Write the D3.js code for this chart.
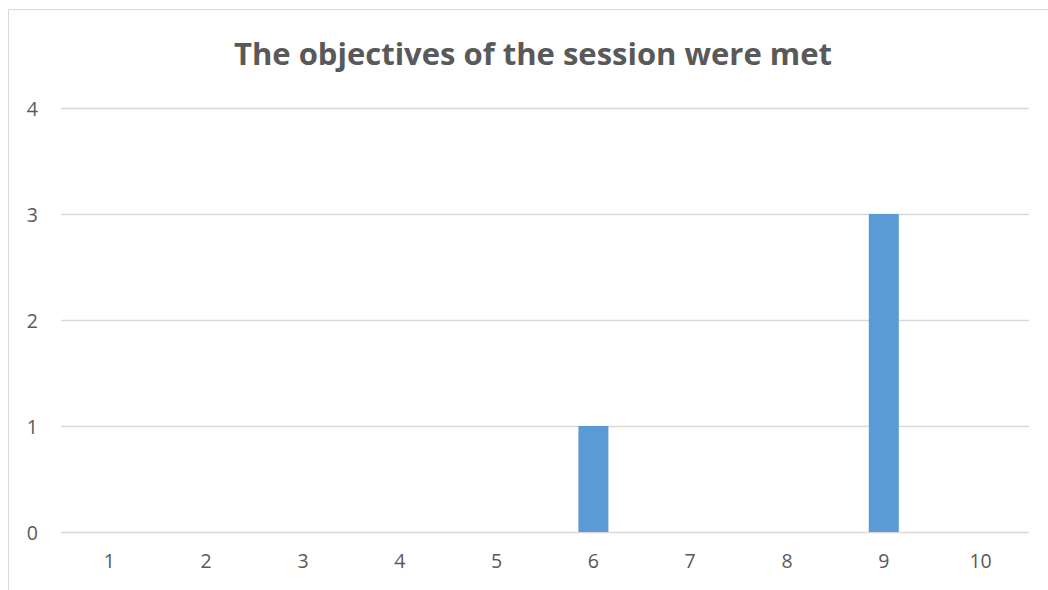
<!DOCTYPE html>
<html>
<head>
<meta charset="utf-8">
<script src="https://cdn.jsdelivr.net/npm/d3@7"></script>
<style>
html,body{margin:0;padding:0;background:#fff;}
svg{display:block;}
</style>
</head>
<body>
<svg id="chart" width="1048" height="590"></svg>
<script>
const title = "The objectives of the session were met";
const categories = ["1","2","3","4","5","6","7","8","9","10"];
const values = [0,0,0,0,0,1,0,0,3,0];
const yTicks = [0,1,2,3,4];

const svg = d3.select("#chart");
const W = 1048, H = 590;
const plot = {left: 61, right: 1029, top: 108, bottom: 532};
const FONT = "'Open Sans', sans-serif";

// chart border (extends beyond the visible area on right and bottom)
svg.append("rect")
  .attr("x", 8.5).attr("y", 9.5)
  .attr("width", W + 20).attr("height", H + 20)
  .attr("fill", "#fff")
  .attr("stroke", "#D9D9D9").attr("stroke-width", 1);

const x = d3.scaleBand()
  .domain(categories)
  .range([plot.left, plot.right])
  .paddingInner(0.69)
  .paddingOuter(0.345);

const y = d3.scaleLinear()
  .domain([0, 4])
  .range([plot.bottom, plot.top]);

// gridlines
svg.append("g")
  .selectAll("line")
  .data(yTicks)
  .join("line")
  .attr("x1", plot.left).attr("x2", plot.right)
  .attr("y1", d => Math.round(y(d)) + 0.5)
  .attr("y2", d => Math.round(y(d)) + 0.5)
  .attr("stroke", "#D9D9D9").attr("stroke-width", 1.3);

// bars
svg.append("g")
  .selectAll("rect")
  .data(values.map((v, i) => ({c: categories[i], v})))
  .join("rect")
  .attr("x", d => x(d.c))
  .attr("width", x.bandwidth())
  .attr("y", d => y(d.v))
  .attr("height", d => y(0) - y(d.v))
  .attr("fill", "#5B9BD5");

// y axis labels
const yAxis = d3.axisLeft(y).tickValues(yTicks).tickSize(0).tickPadding(0).tickFormat(d3.format("d"));
const gy = svg.append("g").attr("transform", "translate(38,0)").call(yAxis);
gy.select(".domain").remove();
gy.selectAll("text")
  .attr("fill", "#595959")
  .attr("dy", "0.36em")
  .style("font-family", FONT)
  .style("font-size", "19.5px");

// x axis labels
const xAxis = d3.axisBottom(x).tickSize(0).tickPadding(0);
const gx = svg.append("g").attr("transform", `translate(0,${plot.bottom + 22})`).call(xAxis);
gx.select(".domain").remove();
gx.selectAll("text")
  .attr("fill", "#595959")
  .style("font-family", FONT)
  .style("font-size", "19.5px");

// title
svg.append("text")
  .attr("x", 533).attr("y", 65)
  .attr("text-anchor", "middle")
  .attr("fill", "#595959")
  .attr("textLength", 598)
  .attr("lengthAdjust", "spacingAndGlyphs")
  .style("font-family", FONT)
  .style("font-weight", "bold")
  .style("font-size", "30px")
  .text(title);
</script>
</body>
</html>
